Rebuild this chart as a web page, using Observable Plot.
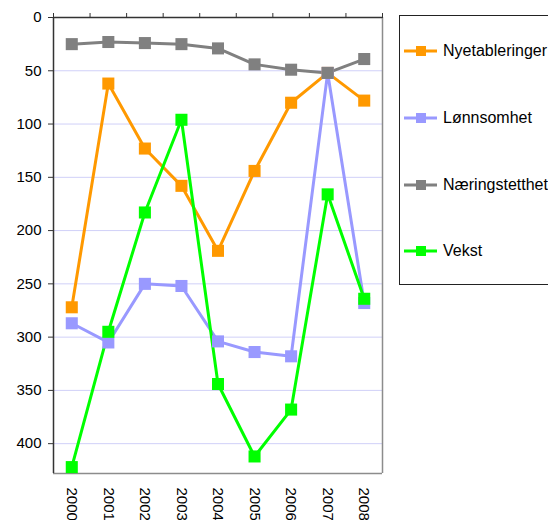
<!DOCTYPE html>
<html><head><meta charset="utf-8">
<script src="https://cdn.jsdelivr.net/npm/d3@7"></script>
<script src="https://cdn.jsdelivr.net/npm/@observablehq/plot@0.6"></script>
<style>
body{margin:0;background:#fff;font-family:"Liberation Sans",Arial,sans-serif;}
#wrap{position:relative;width:548px;height:520px;overflow:hidden;}
#legend{position:absolute;left:399px;top:15px;width:170px;height:270px;border:1px solid #222;box-sizing:border-box;background:#fff;}
.item{position:absolute;left:4px;display:flex;align-items:center;font-size:16px;color:#000;white-space:nowrap;}
.item svg{margin-right:3px;}
</style></head><body><div id="wrap"><div id="chart"></div><div id="legend"></div></div>
<script>
const years = [2000, 2001, 2002, 2003, 2004, 2005, 2006, 2007, 2008];
const nyetableringer = [272, 62, 123, 158, 219, 144, 80, 52, 78];
const lonnsomhet = [287, 305, 250, 252, 304, 314, 318, 52, 268];
const naeringstetthet = [25, 23, 24, 25, 29, 44, 49, 52, 39];
const vekst = [422, 295, 183, 96, 344, 412, 368, 166, 264];
const seriesNames = ["Nyetableringer", "Lønnsomhet", "Næringstetthet", "Vekst"];
const seriesColors = ["#ff9900", "#9999ff", "#808080", "#00ff00"];
const yTicks = [0, 50, 100, 150, 200, 250, 300, 350, 400];
const yMax = 428;

const seriesValues = [nyetableringer, lonnsomhet, naeringstetthet, vekst];
const rows = [];
seriesNames.forEach((name, i) => years.forEach((yr, j) => rows.push({series: name, year: yr, value: seriesValues[i][j]})));
const boundaries = years.map(y => y - 0.5).concat([years[years.length - 1] + 0.5]);
const xDomain = [boundaries[0], boundaries[boundaries.length - 1]];

const lineMarks = [];
const dotMarks = [];
seriesNames.forEach((name, i) => {
  const d = rows.filter(r => r.series === name);
  lineMarks.push(Plot.line(d, {x: "year", y: "value", stroke: seriesColors[i], strokeWidth: 3}));
  dotMarks.push(Plot.dot(d, {x: "year", y: "value", fill: seriesColors[i], symbol: "square", r: 6.8, stroke: null}));
});

const chart = Plot.plot({
  width: 548,
  height: 520,
  marginLeft: 53,
  marginRight: 166,
  marginTop: 17,
  marginBottom: 47,
  style: {fontFamily: "'Liberation Sans', Arial, sans-serif", fontSize: "15px", color: "#000", background: "#fff"},
  x: {type: "linear", domain: xDomain},
  y: {domain: [0, yMax], reverse: true},
  marks: [
    Plot.ruleY(yTicks.filter(d => d > 0), {stroke: "#d0d0f8", strokeWidth: 1}),
    Plot.ruleX([xDomain[1]], {stroke: "#8c8c8c", strokeWidth: 1.5}),
    Plot.ruleY([yMax], {stroke: "#8c8c8c", strokeWidth: 1.5}),
    Plot.ruleX([xDomain[0]], {stroke: "#333", strokeWidth: 1.5}),
    Plot.ruleY([0], {stroke: "#333", strokeWidth: 1.5}),
    Plot.axisX(boundaries, {anchor: "top", tickSize: 5, tickFormat: () => "", label: null, stroke: "#333"}),
    Plot.axisX(years, {anchor: "bottom", tickSize: 0, tickPadding: 14, tickRotate: 90, tickFormat: d => String(d), label: null, fontSize: 15, fill: "#000"}),
    Plot.axisY(yTicks, {anchor: "left", tickSize: 5, tickPadding: 7, label: null, fontSize: 15, fill: "#000", stroke: "#333"}),
    ...lineMarks,
    ...dotMarks
  ]
});
document.getElementById("chart").appendChild(chart);

const legend = document.getElementById("legend");
const itemTops = [35, 102, 169, 235];
seriesNames.forEach((name, i) => {
  const it = document.createElement("div");
  it.className = "item";
  it.style.top = itemTops[i] - 9 + "px";
  it.innerHTML = `<svg width="36" height="18"><line x1="0" x2="33" y1="9" y2="9" stroke="${seriesColors[i]}" stroke-width="3"/><rect x="12" y="4" width="10" height="10" fill="${seriesColors[i]}"/></svg><span>${name}</span>`;
  legend.appendChild(it);
});
</script>
</body></html>
